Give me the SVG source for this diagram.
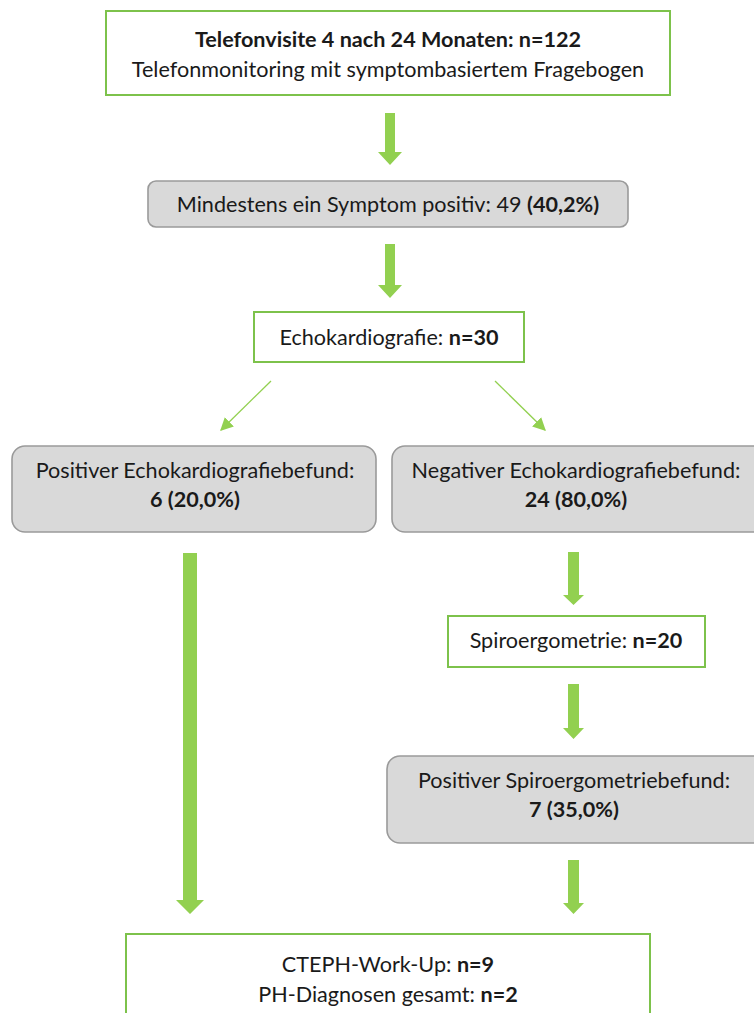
<svg xmlns="http://www.w3.org/2000/svg" width="754" height="1013" viewBox="0 0 754 1013">
  <defs>
    <style>
      .t { font-family: Lato, "Liberation Sans", sans-serif; font-size: 21.6px; fill: #1a1a1a; text-anchor: middle; }
      .b { font-weight: bold; }
      .green { fill: #ffffff; stroke: #7DC24B; stroke-width: 2; }
      .grey { fill: #D9D9D9; stroke: #9A9A9A; stroke-width: 1.6; }
      .arr { fill: #92D050; }
      .thin { stroke: #92D050; stroke-width: 1.3; fill: none; }
    </style>
    <marker id="head" viewBox="0 0 10 10" refX="9" refY="5" markerWidth="13" markerHeight="13" markerUnits="userSpaceOnUse" orient="auto">
      <path d="M0,0 L10,5 L0,10 z" fill="#92D050"/>
    </marker>
  </defs>
  <rect width="754" height="1013" fill="#ffffff"/>

  <!-- connectors -->
  <g id="connectors">
    <!-- block arrows: shaft + head -->
    <path class="arr" d="M385,113 H395 V152 H402 L390,165 L378,152 H385 Z"/>
    <path class="arr" d="M385,244 H395 V285 H402 L390,298 L378,285 H385 Z"/>
    <path class="arr" d="M183,553 H197 V900 H204 L190,914 L176,900 H183 Z"/>
    <path class="arr" d="M568,552 H579 V595 H584 L573.5,605 L563,595 H568 Z"/>
    <path class="arr" d="M568,684 H579 V728 H584 L573.5,739 L563,728 H568 Z"/>
    <path class="arr" d="M568,860 H579 V903 H584 L573.5,914 L563,903 H568 Z"/>
    <!-- thin diagonal branches -->
    <line class="thin" x1="271" y1="381" x2="221" y2="430" marker-end="url(#head)"/>
    <line class="thin" x1="495" y1="381" x2="545" y2="430" marker-end="url(#head)"/>
  </g>

  <g id="node-telefonvisite">
    <rect class="green" x="106" y="11" width="564" height="84"/>
    <text class="t b" x="388" y="47">Telefonvisite 4 nach 24 Monaten: n=122</text>
    <text class="t" x="388" y="77">Telefonmonitoring mit symptombasiertem Fragebogen</text>
  </g>

  <g id="node-symptom">
    <rect class="grey" x="148" y="181" width="480" height="46" rx="8"/>
    <text class="t" x="388" y="212">Mindestens ein Symptom positiv: 49 <tspan class="b">(40,2%)</tspan></text>
  </g>

  <g id="node-echo">
    <rect class="green" x="254" y="312" width="270" height="50"/>
    <text class="t" x="389" y="345">Echokardiografie: <tspan class="b">n=30</tspan></text>
  </g>

  <g id="node-echo-pos">
    <rect class="grey" x="12" y="446" width="364" height="86" rx="13"/>
    <text class="t" x="195" y="478">Positiver Echokardiografiebefund:</text>
    <text class="t b" x="195" y="507">6 (20,0%)</text>
  </g>

  <g id="node-echo-neg">
    <rect class="grey" x="392" y="446" width="380" height="86" rx="13"/>
    <text class="t" x="576" y="478">Negativer Echokardiografiebefund:</text>
    <text class="t b" x="576" y="507">24 (80,0%)</text>
  </g>

  <g id="node-spiro">
    <rect class="green" x="448" y="616" width="257" height="51"/>
    <text class="t" x="576" y="648">Spiroergometrie: <tspan class="b">n=20</tspan></text>
  </g>

  <g id="node-spiro-pos">
    <rect class="grey" x="387" y="756" width="385" height="87" rx="13"/>
    <text class="t" x="574" y="788">Positiver Spiroergometriebefund:</text>
    <text class="t b" x="574" y="817">7 (35,0%)</text>
  </g>

  <g id="node-cteph">
    <rect class="green" x="126" y="934" width="524" height="100"/>
    <text class="t" x="388" y="972">CTEPH-Work-Up: <tspan class="b">n=9</tspan></text>
    <text class="t" x="388" y="1002">PH-Diagnosen gesamt: <tspan class="b">n=2</tspan></text>
  </g>
</svg>
